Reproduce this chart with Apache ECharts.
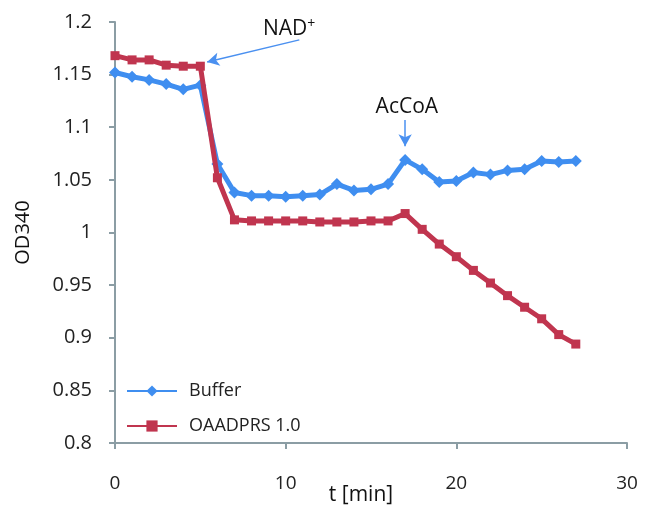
<!DOCTYPE html>
<html>
<head>
<meta charset="utf-8">
<script src="https://cdn.jsdelivr.net/npm/echarts@6/dist/echarts.min.js"></script>
<style>
  html, body { margin: 0; padding: 0; background: #fff; }
  #chart { width: 646px; height: 506px; }
</style>
</head>
<body>
<div id="chart"></div>
<script>
// time points (min)
var times = [0, 1, 2, 3, 4, 5, 6, 7, 8, 9, 10, 11, 12, 13, 14, 15, 16, 17, 18, 19, 20, 21, 22, 23, 24, 25, 26, 27];
// OD340 readings
var buffer = [1.152, 1.148, 1.145, 1.141, 1.136, 1.140, 1.065, 1.038, 1.035, 1.035, 1.034, 1.035, 1.036, 1.046,
              1.040, 1.041, 1.046, 1.069, 1.060, 1.048, 1.049, 1.057, 1.055, 1.059, 1.060, 1.068, 1.067, 1.068];
var oaadprs = [1.168, 1.164, 1.164, 1.159, 1.158, 1.158, 1.052, 1.012, 1.011, 1.011, 1.011, 1.011, 1.010, 1.010,
               1.010, 1.011, 1.011, 1.018, 1.003, 0.989, 0.977, 0.964, 0.952, 0.940, 0.929, 0.918, 0.903, 0.894];
var seriesNames = ['Buffer', 'OAADPRS 1.0'];

// annotations: label point, [arrow tail, arrow head] in data units
var nadLabel = [10.2, 1.193];
var nadArrow = [[10.8, 1.183], [5.4, 1.162]];
var accoaLabel = [17.1, 1.119];
var accoaArrow = [[17, 1.107], [17, 1.082]];

function pairs(xs, ys) {
    return xs.map(function (x, i) { return [x, ys[i]]; });
}

var axisColor = '#8b9da4';
var font = '"Open Sans", "Noto Sans", sans-serif';

var myChart = echarts.init(document.getElementById('chart'));
var option = {
    animation: false,
    grid: { left: 115, right: 19, top: 22, bottom: 63, outerBoundsMode: 'none', containLabel: false },
    legend: {
        orient: 'vertical',
        left: 121,
        top: 377,
        itemGap: 17,
        itemWidth: 50,
        itemHeight: 14,
        textStyle: { fontFamily: font, fontSize: 18, color: '#222', padding: [0, 0, 0, 7] },
        data: seriesNames
    },
    xAxis: {
        type: 'value',
        min: 0, max: 30, interval: 10,
        name: 't [min]',
        nameLocation: 'middle',
        nameGap: 42,
        nameMoveOverlap: false,
        nameTextStyle: { fontFamily: font, fontSize: 21, color: '#111', padding: [0, 20, 0, 0] },
        axisLine: { lineStyle: { color: axisColor, width: 2 } },
        axisTick: { length: 6, lineStyle: { color: axisColor, width: 2 } },
        axisLabel: { margin: 31, fontFamily: font, fontSize: 19, color: '#222' },
        splitLine: { show: false }
    },
    yAxis: {
        type: 'value',
        min: 0.8, max: 1.2, interval: 0.05,
        name: 'OD340',
        nameLocation: 'middle',
        nameGap: 82,
        nameMoveOverlap: false,
        nameTextStyle: { fontFamily: font, fontSize: 20, color: '#111' },
        axisLine: { show: true, lineStyle: { color: axisColor, width: 2 } },
        axisTick: { show: true, length: 6, lineStyle: { color: axisColor, width: 2 } },
        axisLabel: { margin: 23, fontFamily: font, fontSize: 20, color: '#222' },
        splitLine: { show: false }
    },
    series: [
        {
            name: seriesNames[0],
            type: 'line',
            data: pairs(times, buffer),
            symbol: 'diamond',
            symbolSize: 12,
            lineStyle: { color: '#3f8ef0', width: 5 },
            itemStyle: { color: '#3f8ef0' },
            z: 3,
            markLine: {
                silent: true,
                symbol: ['none', 'arrow'],
                symbolSize: [10, 12],
                lineStyle: { color: '#4a90f0', width: 1.5, type: 'solid' },
                label: { show: false },
                data: [
                    [{ coord: nadArrow[0] }, { coord: nadArrow[1] }],
                    [{ coord: accoaArrow[0] }, { coord: accoaArrow[1] }]
                ]
            },
            markPoint: {
                silent: true,
                symbol: 'circle',
                symbolSize: 1,
                itemStyle: { color: 'rgba(0,0,0,0)' },
                label: {
                    show: true,
                    position: 'inside',
                    fontFamily: font,
                    color: '#111',
                    fontSize: 21,
                    formatter: function (p) { return p.name; },
                    rich: {
                        sup: { fontFamily: font, fontSize: 14, color: '#111', padding: [0, 0, 10, 0] }
                    }
                },
                data: [
                    { name: 'NAD{sup|+}', coord: nadLabel },
                    { name: 'AcCoA', coord: accoaLabel }
                ]
            }
        },
        {
            name: seriesNames[1],
            type: 'line',
            data: pairs(times, oaadprs),
            symbol: 'rect',
            symbolSize: 9,
            lineStyle: { color: '#c0354f', width: 5 },
            itemStyle: { color: '#c0354f' },
            z: 4
        }
    ]
};
myChart.setOption(option);
</script>
</body>
</html>
